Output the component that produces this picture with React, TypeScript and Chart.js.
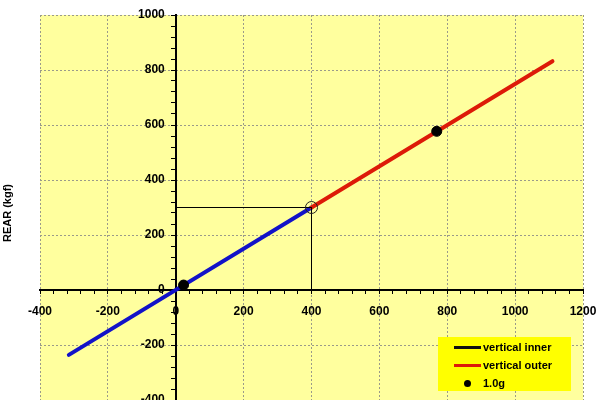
import React, { useEffect, useRef } from 'react';
import { Chart, registerables } from 'chart.js';

Chart.register(...registerables);

// ---- data ----
const xRange = [-400, 1200];
const yRange = [-400, 1000];
const majorStep = 200;
const minorStep = 40;

const innerX = [-315, 400];
const innerY = [-236, 300];
const outerX = [400, 1110];
const outerY = [300, 832];
const guideX = [0, 400, 400];
const guideY = [300, 300, 0];
const markerX = [400];
const markerY = [300];
const gX = [23, 769];
const gY = [18, 577];

const yTitle = 'REAR (kgf)';
const legendLabels = ['vertical inner', 'vertical outer', '1.0g'];

const FONT = '"Liberation Sans", Arial, sans-serif';

const toPts = (xs: number[], ys: number[]) => xs.map((x, i) => ({ x, y: ys[i] }));
const isMajor = (v: number) => Math.abs(v % majorStep) === 0;

const zeroPad = (s: any) => {
  s.paddingLeft = 0;
  s.paddingRight = 0;
  s.paddingTop = 0;
  s.paddingBottom = 0;
};

const bgPlugin = {
  id: 'bgPlugin',
  beforeDraw(chart: any) {
    const { ctx, chartArea } = chart;
    ctx.save();
    ctx.fillStyle = '#ffffff';
    ctx.fillRect(0, 0, chart.width, chart.height);
    ctx.fillStyle = '#FFFF9E';
    ctx.fillRect(chartArea.left, chartArea.top, chartArea.right - chartArea.left, chartArea.bottom - chartArea.top);
    ctx.restore();
  },
  afterDraw(chart: any) {
    const { ctx } = chart;
    const xs = chart.scales.x;
    const ys = chart.scales.y;
    const x0 = xs.getPixelForValue(0);
    ctx.save();
    // y tick labels, left of the y axis
    ctx.font = `bold 12px ${FONT}`;
    ctx.fillStyle = '#000';
    ctx.textAlign = 'right';
    ctx.textBaseline = 'middle';
    ys.ticks.forEach((t: any) => {
      if (isMajor(t.value)) ctx.fillText(String(t.value), x0 - 11, ys.getPixelForValue(t.value));
    });
    // y axis title
    ctx.translate(8, 213);
    ctx.rotate(-Math.PI / 2);
    ctx.font = `bold 11px ${FONT}`;
    ctx.textAlign = 'center';
    ctx.fillText(yTitle, 0, 0);
    ctx.restore();
  },
};

const gridColor = (c: any) => (c.tick && isMajor(c.tick.value) ? '#9a9a8a' : 'rgba(0,0,0,0)');
const tickCb = (v: any) => (isMajor(Number(v)) ? String(v) : '');

export default function App() {
  const ref = useRef<HTMLCanvasElement>(null);
  useEffect(() => {
    if (!ref.current) return;
    const chart = new Chart(ref.current, {
      type: 'scatter',
      data: {
        datasets: [
          {
            label: '1.0g',
            data: toPts(gX, gY),
            pointRadius: 5,
            pointBackgroundColor: '#000',
            pointBorderColor: '#000',
            showLine: false,
          },
          {
            label: 'marker',
            data: toPts(markerX, markerY),
            pointRadius: 6,
            pointBackgroundColor: 'rgba(0,0,0,0)',
            pointBorderColor: '#222',
            pointBorderWidth: 1,
            showLine: false,
          },
          {
            label: 'guide',
            data: toPts(guideX, guideY),
            showLine: true,
            borderColor: '#000',
            borderWidth: 1,
            pointRadius: 0,
          },
          {
            label: 'vertical outer',
            data: toPts(outerX, outerY),
            showLine: true,
            borderColor: '#DD1A08',
            borderWidth: 4,
            borderCapStyle: 'round',
            pointRadius: 0,
          },
          {
            label: 'vertical inner',
            data: toPts(innerX, innerY),
            showLine: true,
            borderColor: '#1212C8',
            borderWidth: 4,
            borderCapStyle: 'round',
            pointRadius: 0,
          },
        ],
      },
      options: {
        animation: false,
        responsive: false,
        maintainAspectRatio: false,
        layout: { padding: { left: 40, right: 17, top: 15, bottom: 1 } },
        plugins: { legend: { display: false }, tooltip: { enabled: false } },
        scales: {
          x: {
            type: 'linear',
            position: { y: 0 } as any,
            min: xRange[0],
            max: xRange[1],
            afterFit: zeroPad,
            ticks: {
              stepSize: minorStep,
              autoSkip: false,
              maxRotation: 0,
              callback: tickCb,
              color: '#000',
              padding: 11,
              font: { family: FONT, size: 12, weight: 'bold' },
            },
            grid: {
              color: gridColor,
              tickColor: '#000',
              tickLength: 3,
              tickWidth: 1,
            },
            border: { display: true, color: '#000', width: 2, dash: [2, 2] },
          },
          y: {
            type: 'linear',
            position: { x: 0 } as any,
            min: yRange[0],
            max: yRange[1],
            afterFit: zeroPad,
            ticks: {
              stepSize: minorStep,
              autoSkip: false,
              callback: tickCb,
              color: 'rgba(0,0,0,0)',
              padding: 0,
              font: { family: FONT, size: 12, weight: 'bold' },
            },
            grid: {
              color: gridColor,
              tickColor: '#000',
              tickLength: 4,
              tickWidth: 1,
            },
            border: { display: true, color: '#000', width: 2, dash: [2, 2] },
          },
        },
      },
      plugins: [bgPlugin],
    } as any);
    return () => chart.destroy();
  }, []);

  const row = (i: number, sample: React.ReactNode) => (
    <div
      key={i}
      style={{ position: 'absolute', left: 0, top: 1 + i * 18, height: 18, width: 133, display: 'flex', alignItems: 'center' }}
    >
      <div style={{ width: 43, display: 'flex', justifyContent: 'flex-end', alignItems: 'center' }}>{sample}</div>
      <span style={{ marginLeft: 2, font: `bold 11px ${FONT}`, color: '#000', whiteSpace: 'nowrap' }}>{legendLabels[i]}</span>
    </div>
  );

  return (
    <div style={{ position: 'fixed', left: 0, top: 0, width: 600, height: 400, background: '#fff', overflow: 'hidden' }}>
      <canvas ref={ref} width={600} height={407} style={{ display: 'block', width: 600, height: 407 }} />
      <div style={{ position: 'absolute', left: 438, top: 337, width: 133, height: 54, background: '#FFFF00' }}>
        {row(0, <div style={{ width: 27, height: 3, background: '#111' }} />)}
        {row(1, <div style={{ width: 27, height: 3, background: '#DD1A08' }} />)}
        {row(2, <div style={{ width: 7, height: 7, borderRadius: '50%', background: '#000', marginRight: 10 }} />)}
      </div>
    </div>
  );
}
